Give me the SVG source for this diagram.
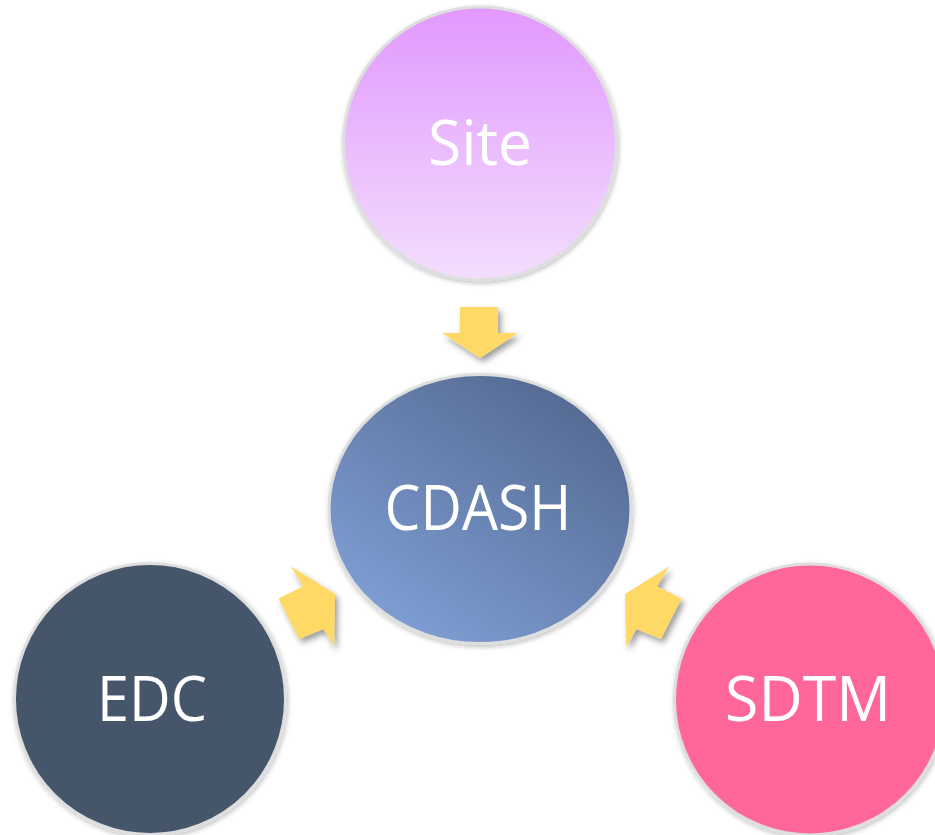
<svg xmlns="http://www.w3.org/2000/svg" width="935" height="835" viewBox="0 0 935 835">
  <defs>
    <linearGradient id="gSite" x1="0" y1="0" x2="0" y2="1">
      <stop offset="0" stop-color="#e198fe"/>
      <stop offset="1" stop-color="#f3defd"/>
    </linearGradient>
    <linearGradient id="gCdash" x1="0.15" y1="0.95" x2="0.85" y2="0.05">
      <stop offset="0" stop-color="#80a0d6"/>
      <stop offset="1" stop-color="#536890"/>
    </linearGradient>
    <filter id="sh" x="-20%" y="-20%" width="140%" height="140%">
      <feGaussianBlur in="SourceAlpha" stdDeviation="2.5"/>
      <feOffset dx="1" dy="2" result="b"/>
      <feComponentTransfer><feFuncA type="linear" slope="0.25"/></feComponentTransfer>
      <feMerge><feMergeNode/><feMergeNode in="SourceGraphic"/></feMerge>
    </filter>
    <filter id="ash" x="-40%" y="-40%" width="180%" height="180%">
      <feGaussianBlur in="SourceAlpha" stdDeviation="3"/>
      <feOffset dx="3" dy="4" result="b"/>
      <feComponentTransfer><feFuncA type="linear" slope="0.4"/></feComponentTransfer>
      <feMerge><feMergeNode/><feMergeNode in="SourceGraphic"/></feMerge>
    </filter>
  </defs>
  <style>
    .node { stroke: #dedede; stroke-width: 3; filter: url(#sh); }
    .lbl { font-family: "Open Sans", "Noto Sans", "Liberation Sans", sans-serif; font-size: 63px; fill: #ffffff; text-anchor: middle; }
    .arr { fill: #ffd966; filter: url(#ash); }
  </style>
  <rect width="935" height="835" fill="#ffffff"/>

  <g id="connectors">
    <polygon class="arr" points="460,307 498,307 498,333 518,333 480,358 442,333 460,333"/>
    <polygon class="arr" points="291,566.5 335,594 334,647 323.5,629 299,639 278.5,598.5 303,586.5"/>
    <polygon class="arr" points="669,566.5 625,594 626,647 636.5,629 661,639 681.5,598.5 657,586.5"/>
  </g>

  <g id="site">
    <circle class="node" cx="480" cy="143.5" r="136.5" fill="url(#gSite)"/>
    <text class="lbl" x="480" y="165" textLength="104" lengthAdjust="spacingAndGlyphs">Site</text>
  </g>

  <g id="cdash">
    <ellipse class="node" cx="480" cy="509" rx="151" ry="134.5" fill="url(#gCdash)"/>
    <text class="lbl" x="478" y="530" textLength="187" lengthAdjust="spacingAndGlyphs">CDASH</text>
  </g>

  <g id="edc">
    <circle class="node" cx="150" cy="699" r="135.5" fill="#44546a"/>
    <text class="lbl" x="152" y="720.5" textLength="110" lengthAdjust="spacingAndGlyphs">EDC</text>
  </g>

  <g id="sdtm">
    <circle class="node" cx="810" cy="699.5" r="135.5" fill="#ff6699"/>
    <text class="lbl" x="808" y="720.5" textLength="166" lengthAdjust="spacingAndGlyphs">SDTM</text>
  </g>
</svg>
